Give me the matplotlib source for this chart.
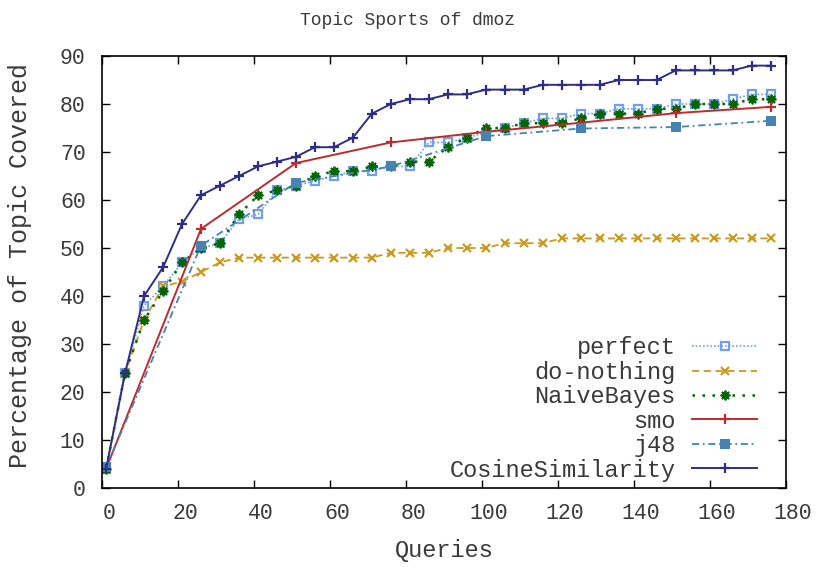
import matplotlib
import matplotlib.pyplot as plt
from matplotlib.transforms import ScaledTranslation

matplotlib.use("Agg")

# queries at which every 5-step series was sampled
queries = [1, 6, 11, 16, 21, 26, 31, 36, 41, 46, 51, 56, 61, 66, 71, 76, 81, 86,
           91, 96, 101, 106, 111, 116, 121, 126, 131, 136, 141, 146, 151, 156,
           161, 166, 171, 176]
queries_sparse = [1, 26, 51, 76, 101, 126, 151, 176]

perfect = [4, 24, 38, 42, 47, 50, 51, 56, 57, 62, 63, 64, 65, 66, 66, 67, 67, 72,
           72, 73, 74, 75, 76, 77, 77, 78, 78, 79, 79, 79, 80, 80, 80, 81, 82, 82]
do_nothing = [4, 24, 35, 42, 43, 45, 47, 48, 48, 48, 48, 48, 48, 48, 48, 49, 49, 49,
              50, 50, 50, 51, 51, 51, 52, 52, 52, 52, 52, 52, 52, 52, 52, 52, 52, 52]
naive_bayes = [4, 24, 35, 41, 47, 50, 51, 57, 61, 62, 63, 65, 66, 66, 67, 67, 68, 68,
               71, 73, 75, 75, 76, 76, 76, 77, 78, 78, 78, 79, 79, 80, 80, 80, 81, 81]
smo = [4, 54, 67.7, 72, 74.2, 76.1, 78.1, 79.4]
j48 = [4.3, 50.5, 63.6, 67, 73.3, 74.9, 75.2, 76.5]
cosine = [4, 24, 40, 46, 55, 61, 63, 65, 67, 68, 69, 71, 71, 73, 78, 80, 81, 81,
          82, 82, 83, 83, 83, 84, 84, 84, 84, 85, 85, 85, 87, 87, 87, 87, 88, 88]

x_ticks = list(range(0, 181, 20))
y_ticks = list(range(0, 91, 10))

plt.rcParams["font.family"] = ["Liberation Mono", "DejaVu Sans Mono"]
text_color = "#3a3a3a"

fig = plt.figure(figsize=(8.16, 5.67), dpi=100)
ax = fig.add_axes([0.1254, 0.1393, 0.8375, 0.7619])

ms = 6
ax.plot(queries, perfect, color="#6f9ff0", linestyle=(0, (1, 1.2)), linewidth=1.2,
        marker="s", markersize=ms, markerfacecolor="none", markeredgewidth=1.6,
        label="perfect")
ax.plot(queries, do_nothing, color="#c99a1e", linestyle=(0, (4, 2.5)), linewidth=1.3,
        marker="x", markersize=ms, markeredgewidth=1.6, label="do-nothing")
ax.plot(queries, naive_bayes, color="#006400", linestyle=(0, (1, 3)), linewidth=1.8,
        marker=(8, 2, 0), markersize=ms + 1, markeredgewidth=1.3, label="NaiveBayes")
ax.plot(queries_sparse, smo, color="#be2a2e", linestyle="-", linewidth=1.4,
        marker="+", markersize=ms + 1, markeredgewidth=1.6, label="smo")
ax.plot(queries_sparse, j48, color="#4682b4", linestyle=(0, (4, 2, 1, 2)), linewidth=1.3,
        marker="s", markersize=ms + 1, markeredgewidth=0, label="j48")
ax.plot(queries, cosine, color="#2e2e85", linestyle="-", linewidth=1.4,
        marker="+", markersize=ms + 1, markeredgewidth=1.6, label="CosineSimilarity")

ax.set_xlim(0, 180)
ax.set_ylim(0, 90)
ax.set_xticks(x_ticks)
ax.set_yticks(y_ticks)
ax.tick_params(direction="in", length=6, width=1, top=True, right=True,
               labelsize=15.5, labelcolor=text_color)
ax.tick_params(axis="x", pad=11)
ax.tick_params(axis="y", pad=12)
for side in ax.spines.values():
    side.set_linewidth(1.2)

# gnuplot puts the x tick labels a little to the right of their ticks
shift = ScaledTranslation(7 / 100, 0, fig.dpi_scale_trans)
for tick in ax.xaxis.get_major_ticks():
    tick.label1.set_transform(tick.label1.get_transform() + shift)

ax.set_xlabel("Queries", fontsize=17, color=text_color)
ax.xaxis.set_label_coords(0.5, -0.118)
ax.set_ylabel("Percentage of Topic Covered", fontsize=18, color=text_color)
ax.yaxis.set_label_coords(-0.103, 0.516)
fig.text(0.5, 0.963, "Topic Sports of dmoz", ha="center", va="center",
         fontsize=13, color=text_color)

leg = ax.legend(loc="lower right", bbox_to_anchor=(0.958, 0.015), markerfirst=False,
                frameon=False, fontsize=17, handlelength=2.75, handletextpad=0.7,
                labelspacing=0.06, borderpad=0, borderaxespad=0, numpoints=1)
for t in leg.get_texts():
    t.set_color(text_color)

fig.savefig("out.png", dpi=100)
